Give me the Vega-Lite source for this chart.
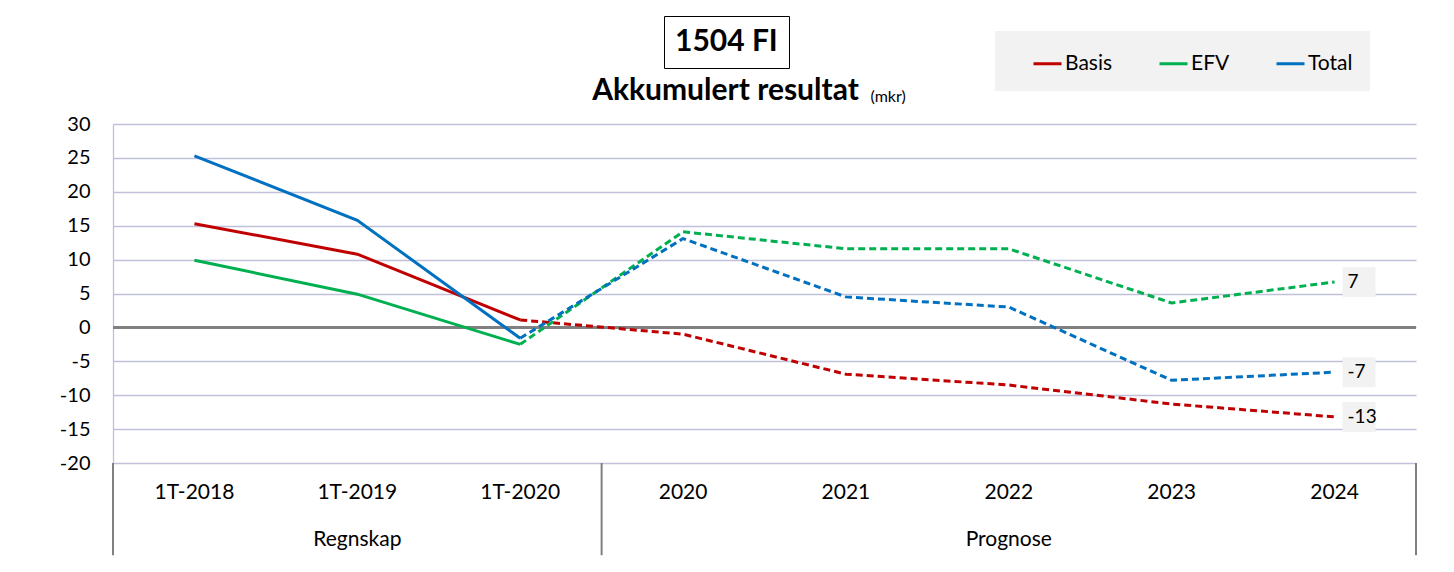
{
  "$schema": "https://vega.github.io/schema/vega-lite/v6.json",
  "width": 1303,
  "height": 339,
  "autosize": {"type": "none"},
  "padding": {"left": 113, "top": 124, "right": 38, "bottom": 109},
  "background": "white",
  "config": {
    "view": {"stroke": null},
    "font": "Lato",
    "locale": {"number": {"decimal": ".", "thousands": " ", "grouping": [3], "currency": ["", " kr"], "minus": "-"}}
  },
  "title": {
    "text": "Akkumulert resultat",
    "font": "Lato",
    "fontSize": 30,
    "fontWeight": "bold",
    "color": "black",
    "anchor": "middle",
    "dx": -39,
    "offset": -90
  },
  "data": {
    "values": [
      {"cat": "1T-2018", "group": "Regnskap", "series": "Basis", "value": 15.3},
      {"cat": "1T-2019", "group": "Regnskap", "series": "Basis", "value": 10.8},
      {"cat": "1T-2020", "group": "Regnskap", "series": "Basis", "value": 1.1},
      {"cat": "2020", "group": "Prognose", "series": "Basis", "value": -1.0},
      {"cat": "2021", "group": "Prognose", "series": "Basis", "value": -6.9},
      {"cat": "2022", "group": "Prognose", "series": "Basis", "value": -8.5},
      {"cat": "2023", "group": "Prognose", "series": "Basis", "value": -11.3},
      {"cat": "2024", "group": "Prognose", "series": "Basis", "value": -13.2},
      {"cat": "1T-2018", "group": "Regnskap", "series": "EFV", "value": 9.9},
      {"cat": "1T-2019", "group": "Regnskap", "series": "EFV", "value": 4.9},
      {"cat": "1T-2020", "group": "Regnskap", "series": "EFV", "value": -2.5},
      {"cat": "2020", "group": "Prognose", "series": "EFV", "value": 14.1},
      {"cat": "2021", "group": "Prognose", "series": "EFV", "value": 11.6},
      {"cat": "2022", "group": "Prognose", "series": "EFV", "value": 11.6},
      {"cat": "2023", "group": "Prognose", "series": "EFV", "value": 3.6},
      {"cat": "2024", "group": "Prognose", "series": "EFV", "value": 6.7},
      {"cat": "1T-2018", "group": "Regnskap", "series": "Total", "value": 25.3},
      {"cat": "1T-2019", "group": "Regnskap", "series": "Total", "value": 15.8},
      {"cat": "1T-2020", "group": "Regnskap", "series": "Total", "value": -1.6},
      {"cat": "2020", "group": "Prognose", "series": "Total", "value": 13.1},
      {"cat": "2021", "group": "Prognose", "series": "Total", "value": 4.5},
      {"cat": "2022", "group": "Prognose", "series": "Total", "value": 3.0},
      {"cat": "2023", "group": "Prognose", "series": "Total", "value": -7.8},
      {"cat": "2024", "group": "Prognose", "series": "Total", "value": -6.6}
    ]
  },
  "layer": [
    {
      "mark": {"type": "rule", "color": "#808080", "strokeWidth": 2},
      "encoding": {
        "y": {"datum": 0, "type": "quantitative",
              "scale": {"domain": [-20, 30], "nice": false, "zero": false},
              "axis": {
                "values": [-20, -15, -10, -5, 0, 5, 10, 15, 20, 25, 30],
                "tickCount": 11,
                "labelOverlap": false,
                "labelFont": "Lato",
                "labelFontSize": 20,
                "labelColor": "black",
                "labelPadding": 23,
                "ticks": false,
                "domain": true,
                "domainColor": "#c0c0da",
                "domainWidth": 1.3,
                "grid": true,
                "gridColor": "#c0c0da",
                "gridWidth": 1.3,
                "title": "(mkr)",
                "titleFont": "Lato",
                "titleFontSize": 16,
                "titleFontWeight": "normal",
                "titleColor": "black",
                "titleAngle": 0,
                "titleAlign": "left",
                "titleBaseline": "alphabetic",
                "titleX": 757,
                "titleY": -23
              }}
      }
    },
    {
      "transform": [{"filter": "datum.series == 'Basis' && (datum.cat == '1T-2018' || datum.cat == '2020')"}],
      "mark": {"type": "rule", "color": "#808080", "strokeWidth": 2, "clip": false},
      "encoding": {
        "x": {"field": "cat", "type": "nominal", "bandPosition": 0,
              "scale": {"type": "band", "domain": ["1T-2018", "1T-2019", "1T-2020", "2020", "2021", "2022", "2023", "2024"], "paddingInner": 0, "paddingOuter": 0},
              "axis": {
                "title": null,
                "labelFont": "Lato",
                "labelFontSize": 21,
                "labelColor": "black",
                "labelAngle": 0,
                "labelAlign": "center",
                "labelPadding": 18,
                "labelBaseline": "top",
                "labelLineHeight": 47,
                "labelOverlap": false,
                "labelExpr": "datum.value == '1T-2019' ? ['1T-2019', 'Regnskap'] : (datum.value == '2022' ? ['2022', 'Prognose'] : datum.label)",
                "ticks": false,
                "domain": false,
                "grid": false
              }},
        "y": {"datum": -20, "type": "quantitative"},
        "y2": {"datum": -33.6}
      }
    },
    {
      "transform": [{"filter": "datum.series == 'Basis' && datum.cat == '2024'"}],
      "mark": {"type": "rule", "color": "#808080", "strokeWidth": 2, "clip": false},
      "encoding": {
        "x": {"field": "cat", "type": "nominal", "bandPosition": 1,
              "scale": {"type": "band", "domain": ["1T-2018", "1T-2019", "1T-2020", "2020", "2021", "2022", "2023", "2024"], "paddingInner": 0, "paddingOuter": 0}},
        "y": {"datum": -20, "type": "quantitative"},
        "y2": {"datum": -33.6}
      }
    },
    {
      "transform": [{"filter": "datum.group == 'Regnskap'"}],
      "mark": {"type": "line", "strokeWidth": 3},
      "encoding": {
        "x": {"field": "cat", "type": "nominal", "bandPosition": 0.5,
              "scale": {"type": "band", "domain": ["1T-2018", "1T-2019", "1T-2020", "2020", "2021", "2022", "2023", "2024"], "paddingInner": 0, "paddingOuter": 0}},
        "y": {"field": "value", "type": "quantitative"},
        "color": {"field": "series", "type": "nominal",
                  "scale": {"domain": ["Basis", "EFV", "Total"], "range": ["#c00000", "#00b050", "#0070c0"]},
                  "legend": {
                    "orient": "none",
                    "legendX": 882,
                    "legendY": -93,
                    "direction": "horizontal",
                    "title": " ",
                    "titleOrient": "left",
                    "titlePadding": 20,
                    "titleFontSize": 20,
                    "fillColor": "#f2f2f2",
                    "padding": 17,
                    "symbolType": "stroke",
                    "symbolSize": 784,
                    "symbolStrokeWidth": 3,
                    "symbolDash": [1, 0],
                    "labelOffset": 2,
                    "labelFont": "Lato",
                    "labelFontSize": 21,
                    "labelColor": "black",
                    "columnPadding": 40,
                    "labelExpr": "datum.label == 'Total' ? 'Total\u00a0\u00a0\u00a0\u00a0\u00a0\u00a0\u00a0' : datum.label"
                  }}
      }
    },
    {
      "transform": [{"filter": "datum.group == 'Prognose' || datum.cat == '1T-2020'"}],
      "mark": {"type": "line", "strokeWidth": 3, "strokeDash": [7, 4]},
      "encoding": {
        "x": {"field": "cat", "type": "nominal", "bandPosition": 0.5,
              "scale": {"type": "band", "domain": ["1T-2018", "1T-2019", "1T-2020", "2020", "2021", "2022", "2023", "2024"], "paddingInner": 0, "paddingOuter": 0}},
        "y": {"field": "value", "type": "quantitative"},
        "color": {"field": "series", "type": "nominal"}
      }
    },
    {
      "transform": [{"filter": "datum.cat == '2024'"}],
      "mark": {"type": "point", "filled": true, "fill": "#f2f2f2", "opacity": 1, "size": 900, "xOffset": 8, "clip": false},
      "encoding": {
        "x": {"field": "cat", "type": "nominal", "bandPosition": 0.5,
              "scale": {"type": "band", "domain": ["1T-2018", "1T-2019", "1T-2020", "2020", "2021", "2022", "2023", "2024"], "paddingInner": 0, "paddingOuter": 0}},
        "y": {"field": "value", "type": "quantitative"},
        "shape": {"datum": "1504 FI",
                  "scale": {"range": ["M0,-1H2.2V1H0Z"]},
                  "legend": {
                    "orient": "none",
                    "legendX": 551,
                    "legendY": -108,
                    "title": null,
                    "labelFont": "Lato",
                    "labelFontSize": 30,
                    "labelFontWeight": "bold",
                    "labelColor": "black",
                    "labelOffset": -30,
                    "symbolSize": 1,
                    "symbolOpacity": 0,
                    "symbolStrokeWidth": 0,
                    "strokeColor": "black",
                    "fillColor": "white",
                    "padding": 11
                  }}
      }
    },
    {
      "transform": [{"filter": "datum.cat == '2024'"}],
      "mark": {"type": "text", "align": "left", "baseline": "middle", "xOffset": 13, "font": "Lato", "fontSize": 19, "color": "black", "clip": false},
      "encoding": {
        "x": {"field": "cat", "type": "nominal", "bandPosition": 0.5,
              "scale": {"type": "band", "domain": ["1T-2018", "1T-2019", "1T-2020", "2020", "2021", "2022", "2023", "2024"], "paddingInner": 0, "paddingOuter": 0}},
        "y": {"field": "value", "type": "quantitative"},
        "text": {"field": "value", "type": "quantitative", "format": ".0f"}
      }
    }
  ]
}
